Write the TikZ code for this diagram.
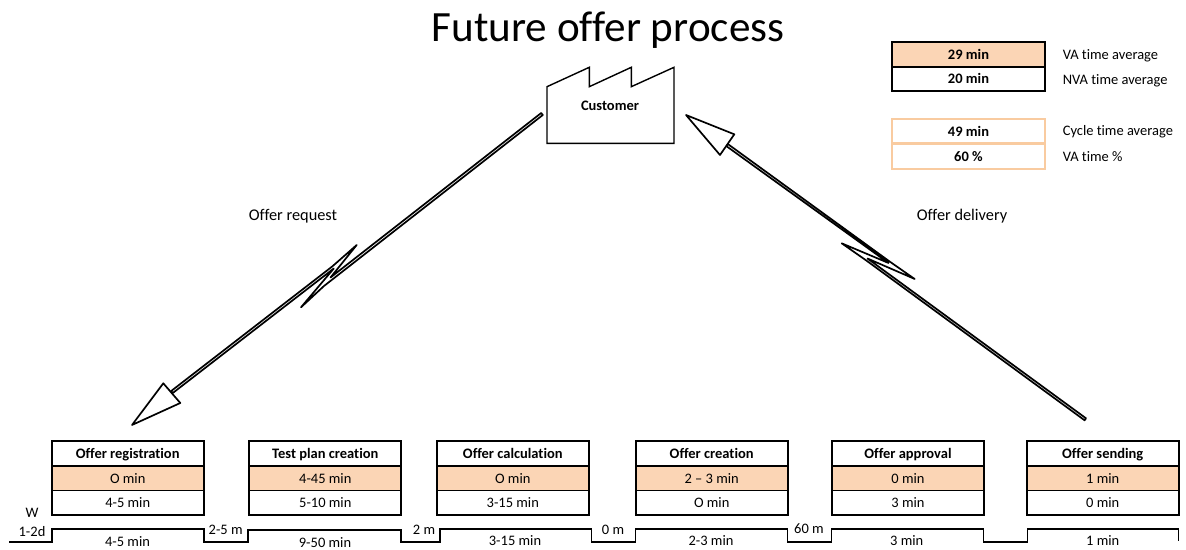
\documentclass[tikz,border=0pt]{standalone}
\usepackage{fontspec}
\setmainfont{Carlito}[Ligatures=NoCommon]
\usetikzlibrary{positioning}
\definecolor{peach}{HTML}{FBD5B5}
\definecolor{peachline}{HTML}{F9CBA0}
\tikzset{
  txt/.style={font=\fontsize{10.3}{12}\selectfont,inner sep=0pt,text height=8.5pt,text depth=1.5pt},
  boldtxt/.style={txt,font=\fontsize{10.3}{12}\selectfont\bfseries},
  cell/.style={draw=black,line width=1.2pt,minimum width=3.8cm,minimum height=0.6125cm,inner sep=0pt,outer sep=0pt,text height=8.5pt,text depth=1.5pt},
  headcell/.style={cell,font=\fontsize{10.3}{12}\selectfont\bfseries,fill=white},
  vacell/.style={cell,txt,minimum width=3.8cm,minimum height=0.6125cm,fill=peach},
  nvacell/.style={cell,txt,minimum width=3.8cm,minimum height=0.6125cm,fill=white},
  sumcell/.style={cell,font=\fontsize{10.3}{12}\selectfont\bfseries},
  flash/.style={draw=black,fill=white,line width=1.2pt,line join=round},
}
\begin{document}
\begin{tikzpicture}[x=0.025cm,y=-0.025cm]
\useasboundingbox (0,0) rectangle (1186,550);
\node[font=\fontsize{30.7}{36}\selectfont,inner sep=0pt] (title) at (608,30) {Future offer process};

\draw[line width=1pt] (547,86.7) -- (589.3,67.3) -- (589.3,86.7) -- (631.3,67.3) -- (631.3,86.7) -- (674,67.3) -- (674,143.3) -- (547,143.3) -- cycle;
\node[boldtxt] (customer) at (610,106) {Customer};

\draw[flash] (541.2,113) -- (330.5,277.5) -- (356.7,245) -- (332.2,266.5) -- (171.2,391) -- (172.8,393) -- (333.8,268.5) -- (301,307.3) -- (324,286) -- (542.8,115) -- cycle;
\draw[flash] (132,425) -- (163.3,383.3) -- (180.3,403) -- cycle;
\node[txt,font=\fontsize{11.6}{14}\selectfont] (request) at (293,216) {Offer request};

\draw[flash] (727.8,144) -- (889.6,261.5) -- (914.7,279) -- (867.5,258.5) -- (1086,418.3) -- (1084.6,420.3) -- (866,260.3) -- (841.7,243.3) -- (888.5,263) -- (726.2,146) -- cycle;
\draw[flash] (686,115) -- (734.3,134.3) -- (720,155) -- cycle;
\node[txt,font=\fontsize{11.6}{14}\selectfont] (delivery) at (962,216) {Offer delivery};

% summary
\node[sumcell,fill=peach,minimum width=3.81cm] (vasum) at (968.5,54.5) {29 min};
\node[sumcell,minimum width=3.81cm] (nvasum) at (968.5,79) {20 min};
\node[sumcell,draw=peachline,minimum width=3.81cm,line width=1.4pt] (cyclesum) at (968.5,131.2) {49 min};
\node[sumcell,draw=peachline,minimum width=3.81cm,line width=1.4pt] (pctsum) at (968.5,156.4) {60 \%};
\node[txt,anchor=west] (vatext) at (1062.5,55) {VA time average};
\node[txt,anchor=west] (nvatext) at (1062.5,79.5) {NVA time average};
\node[txt,anchor=west] (cycletext) at (1062.5,131) {Cycle time average};
\node[txt,anchor=west] (pcttext) at (1062.5,157) {VA time \%};

% process boxes
\node[vacell] (va1) at (127.7,478.2) {O min};
\node[nvacell] (nva1) at (127.7,502.7) {4-5 min};
\node[headcell] (head1) at (127.7,453.2) {Offer registration};
\node[vacell] (va2) at (325.3,478.2) {4-45 min};
\node[nvacell] (nva2) at (325.3,502.7) {5-10 min};
\node[headcell] (head2) at (325.3,453.2) {Test plan creation};
\node[vacell] (va3) at (512.8,478.2) {O min};
\node[nvacell] (nva3) at (512.8,502.7) {3-15 min};
\node[headcell] (head3) at (512.8,453.2) {Offer calculation};
\node[vacell] (va4) at (711.7,478.2) {2 -- 3 min};
\node[nvacell] (nva4) at (711.7,502.7) {O min};
\node[headcell] (head4) at (711.7,453.2) {Offer creation};
\node[vacell] (va5) at (908,478.2) {0 min};
\node[nvacell] (nva5) at (908,502.7) {3 min};
\node[headcell] (head5) at (908,453.2) {Offer approval};
\node[vacell] (va6) at (1102.7,478.2) {1 min};
\node[nvacell] (nva6) at (1102.7,502.7) {0 min};
\node[headcell] (head6) at (1102.7,453.2) {Offer sending};

% time line
\draw[line width=1pt] (9,542) -- (52,542) -- (52,529) -- (204,529) -- (204,542) -- (248,542) -- (248,530) -- (401,530) -- (401,542) -- (440,542) -- (440,529) -- (591.7,529) -- (591.7,542) -- (635.3,542) -- (635.3,529) -- (787.7,529) -- (787.7,542) -- (831.7,542) -- (831.7,529) -- (983.3,529) -- (983.3,542) -- (1027.3,542) -- (1027.3,529) -- (1178.7,529) -- (1178.7,541);
\node[txt] (wait) at (32,513) {W};
\node[txt] (wait0) at (32,531.5) {1-2d};
\node[txt] (wait1) at (225.7,530) {2-5 m};
\node[txt] (wait2) at (424,530) {2 m};
\node[txt] (wait3) at (613,530) {0 m};
\node[txt] (wait4) at (809,529) {60 m};
\node[txt] (time1) at (127.5,541.5) {4-5 min};
\node[txt] (time2) at (325,542.5) {9-50 min};
\node[txt] (time3) at (515,541) {3-15 min};
\node[txt] (time4) at (711,541) {2-3 min};
\node[txt] (time5) at (906.7,541) {3 min};
\node[txt] (time6) at (1102.7,541) {1 min};
\end{tikzpicture}
\end{document}
